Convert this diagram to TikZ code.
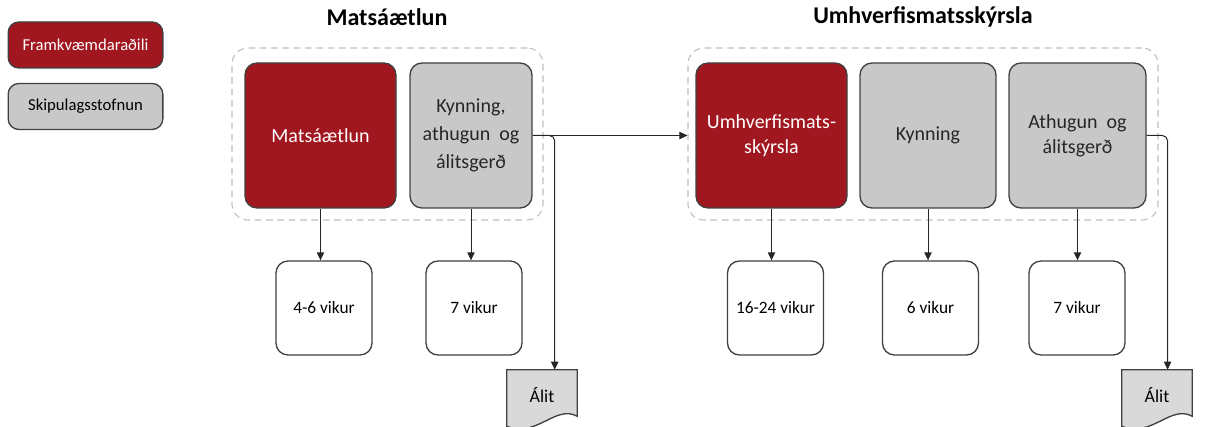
\documentclass[tikz,border=0pt]{standalone}
\usepackage{fontspec}
\setmainfont{Carlito}
\usepackage{tikz}
\usetikzlibrary{positioning,calc,arrows.meta,backgrounds}

\definecolor{matsred}{RGB}{161,23,31}
\definecolor{stofngray}{RGB}{200,200,200}
\definecolor{alitgray}{RGB}{217,217,217}
\definecolor{edgegray}{RGB}{64,64,64}

\begin{document}
\begin{tikzpicture}[x=0.75pt,y=-0.75pt,
    redbox/.style={draw=edgegray, line width=1pt, rounded corners=9pt, fill=matsred,
        text=white, inner sep=0pt, align=center, minimum height=108.75pt,
        font=\fontsize{15}{19}\selectfont},
    graybox/.style={redbox, fill=stofngray, text=black!85},
    legendbox/.style={draw=edgegray, line width=1pt, rounded corners=8pt, inner sep=0pt,
        minimum width=116pt, minimum height=34.5pt, font=\fontsize{12.5}{14}\selectfont},
    weeks/.style={draw=edgegray, line width=1pt, fill=white, rounded corners=9pt,
        minimum width=72pt, minimum height=70.5pt, font=\fontsize{13}{15}\selectfont},
    alitdoc/.style={inner sep=0pt, minimum width=52.5pt, minimum height=37.5pt,
        font=\fontsize{13.5}{15}\selectfont},
    group/.style={draw=gray!50, dashed, dash pattern=on 5pt off 3.5pt, line width=0.8pt,
        rounded corners=12pt, minimum height=129pt},
    arr/.style={-{Triangle[length=6pt,width=5.5pt]}, line width=0.75pt, black!85},
    title/.style={font=\bfseries\fontsize{18}{21}\selectfont}
]
    \useasboundingbox (0,0) rectangle (1211,427);

    % Legend
    \node[legendbox, fill=matsred, text=white] (leg1) at (85.5,45) {Framkvæmdaraðili};
    \node[legendbox, fill=stofngray] (leg2) at (85.5,106.5) {Skipulagsstofnun};

    % Titles
    \node[title] (title1) at (387,17) {Matsáætlun};
    \node[title] (title2) at (923,17) {Umhverfismatsskýrsla};

    % Groups
    \node[group, minimum width=233.25pt] (grp1) at (387.5,134) {};
    \node[group, minimum width=352.5pt] (grp2) at (923,134) {};

    % Stages
    \node[redbox, minimum width=113.25pt] (mat) at (320.5,135.5) {Matsáætlun};
    \node[graybox, minimum width=91.5pt, font=\fontsize{15}{21}\selectfont] (kyn1) at (471,135.5) {Kynning,\\athugun~~og\\álitsgerð};
    \node[redbox, minimum width=113.25pt] (umh) at (771.5,135.5) {Umhverfismats-\\skýrsla};
    \node[graybox, minimum width=102pt] (kyn2) at (928,135.5) {Kynning};
    \node[graybox, minimum width=102.75pt] (ath) at (1077.5,135.5) {Athugun~~og\\álitsgerð};

    % Durations
    \foreach \name/\x/\up/\txt in {vik1/324/mat/4-6 vikur, vik2/474/kyn1/7 vikur,
        vik3/775.5/umh/16-24 vikur, vik4/930.5/kyn2/6 vikur, vik5/1077/ath/7 vikur} {
        \node[weeks] (\name) at (\x,308) {\txt};
        \draw[arr] (\up.south) -- (\up.south |- \name.north);
    }

    % Opinions
    \node[alitdoc] (alit1) at (542,395) {Álit};
    \node[alitdoc] (alit2) at (1157,395) {Álit};
    \begin{scope}[on background layer]
        \foreach \doc in {alit1, alit2} {
            \draw[draw=edgegray, line width=1pt, fill=alitgray]
                (\doc.north west) -- (\doc.north east) -- ($(\doc.south east)+(0,-4)$)
                .. controls ($(\doc.south east)+(-22,-16)$) and ($(\doc.south west)+(30,18)$)
                .. ($(\doc.south west)+(0,6)$) -- cycle;
        }
    \end{scope}

    % Connectors
    \draw[arr] (kyn1.east) -- (kyn1.east -| grp2.west);
    \draw[arr, rounded corners=4pt] (kyn1.east) -| ($(alit1.north west)!0.68!(alit1.north east)$);
    \draw[arr, rounded corners=4pt] (ath.east) -| ($(alit2.north west)!0.65!(alit2.north east)$);
\end{tikzpicture}
\end{document}
